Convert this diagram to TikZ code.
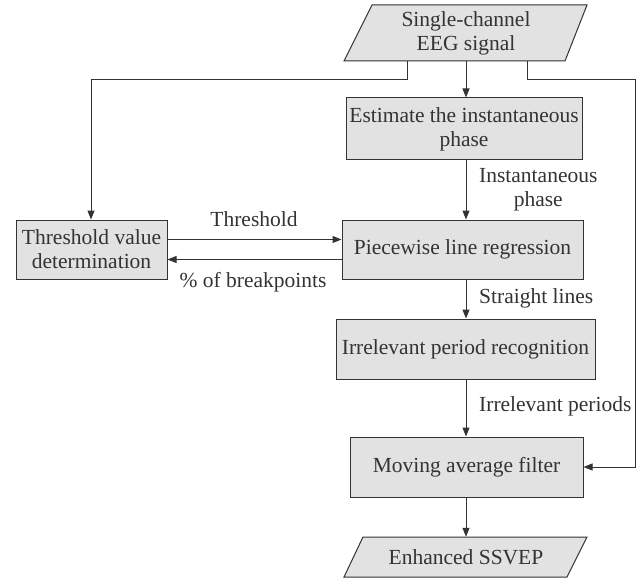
\documentclass[tikz,border=0pt]{standalone}
\usepackage{fontspec}
\setmainfont{Liberation Serif}
\usetikzlibrary{arrows.meta,calc}
\definecolor{boxfill}{HTML}{E2E2E2}
\definecolor{ink}{HTML}{333333}
\begin{document}
\begin{tikzpicture}[x=1pt,y=-1pt,
  every node/.style={font=\fontsize{21.5}{24}\selectfont, text=ink},
  procbox/.style={draw=ink, fill=boxfill, line width=1pt, inner sep=0pt, align=center},
  iobox/.style={inner sep=0pt, align=center},
  para/.style={draw=ink, fill=boxfill, line width=1pt},
  arr/.style={draw=ink, line width=1pt, -{Triangle[length=9pt,width=7pt]}},
  lin/.style={draw=ink, line width=1pt},
  lbl/.style={inner sep=0pt, align=center}]
\useasboundingbox (0,0) rectangle (641,578);
% input parallelogram
\filldraw[para] (344,61) -- (372,5) -- (587,5) -- (565,61) -- cycle;
\node[iobox, minimum width=200pt, minimum height=56pt] (in) at (466,33) {Single-channel\\EEG signal};
% output parallelogram
\filldraw[para] (344,577) -- (363,537) -- (587,537) -- (567,577) -- cycle;
\node[iobox, minimum width=200pt, minimum height=40pt] (out) at (466,557) {Enhanced SSVEP};
% boxes
\node[procbox, minimum width=236pt, minimum height=62pt] (est) at (464,129) {Estimate the instantaneous\\phase};
\node[procbox, minimum width=151pt, minimum height=59pt] (thr) at (91.5,249.5) {Threshold value\\determination};
\node[procbox, minimum width=241pt, minimum height=59pt] (pw) at (462.5,249.5) {Piecewise line regression};
\node[procbox, minimum width=259pt, minimum height=60pt] (irr) at (465.5,349) {Irrelevant period recognition};
\node[procbox, minimum width=233pt, minimum height=60pt] (mov) at (466.5,467) {Moving average filter};
% helper coordinates
\coordinate (axis) at (466,0);
\coordinate (lft) at (407,0);
\coordinate (rgt) at (527,0);
\coordinate (lturn) at (91,80);
\coordinate (rturn) at (635,80);
% main vertical flow
\draw[arr] (in.south -| axis) -- (est.north -| axis);
\draw[arr] (est.south -| axis) -- (pw.north -| axis);
\draw[arr] (pw.south -| axis) -- (irr.north -| axis);
\draw[arr] (irr.south -| axis) -- (mov.north -| axis);
\draw[arr] (mov.south -| axis) -- (out.north -| axis);
% side branches
\draw[arr] (in.south -| lft) |- (lturn) -- (thr.north -| lturn);
\draw[arr] (in.south -| rgt) |- (rturn) |- (mov.east);
% feedback arrows
\draw[arr] ([yshift=10pt]thr.east) -- ([yshift=10pt]thr.east -| pw.west);
\draw[arr] ([yshift=-10pt]thr.east -| pw.west) -- ([yshift=-10pt]thr.east);
% labels
\node[lbl] (l1) at (254,219) {Threshold};
\node[lbl] (l2) at (253,282) {\% of breakpoints};
\node[lbl, anchor=west] (l3) at (479,190) {Instantaneous\\phase};
\node[lbl, anchor=west] (l4) at (479,298) {Straight lines};
\node[lbl, anchor=west] (l5) at (479,406) {Irrelevant periods};
\end{tikzpicture}
\end{document}
